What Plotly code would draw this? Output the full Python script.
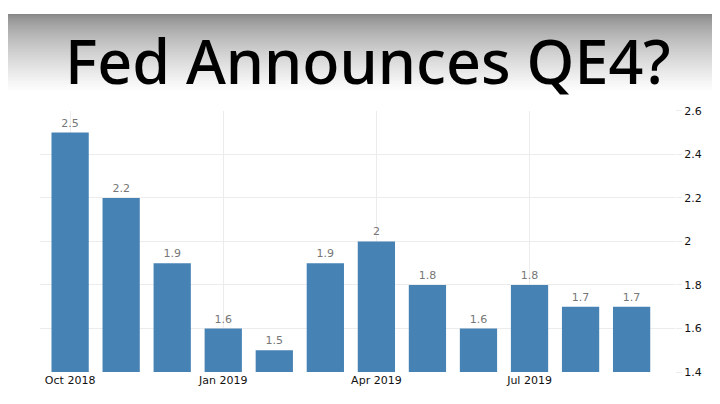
import plotly.graph_objects as go

months = ["Oct 2018","Nov 2018","Dec 2018","Jan 2019","Feb 2019","Mar 2019","Apr 2019","May 2019","Jun 2019","Jul 2019","Aug 2019","Sep 2019"]
values = [2.5,2.2,1.9,1.6,1.5,1.9,2,1.8,1.6,1.8,1.7,1.7]
tick_idx = [0,3,6,9]
tick_labels = ["Oct 2018","Jan 2019","Apr 2019","Jul 2019"]
y_ticks = [1.4,1.6,1.8,2,2.2,2.4,2.6]

W, H = 720, 404
x = list(range(len(values)))
fig = go.Figure(go.Bar(
    x=x, y=[v - 1.4 for v in values], base=1.4, width=0.73,
    marker=dict(color="#4682b4", line=dict(width=0)),
    text=[f"{v:g}" for v in values], textposition="outside",
    textfont=dict(color="#777777", size=11, family="DejaVu Sans"),
    cliponaxis=False, hoverinfo="skip"))

shapes = []
n = 80
step = 80 / H / n
for i in range(n):
    t = i / (n - 1)
    c = int(135 + (255 - 135) * min(1, t ** 0.7))
    shapes.append(dict(type="rect", xref="paper", yref="paper",
                       x0=0, x1=1, y0=1 - (i + 1) * step - 0.002, y1=1 - i * step,
                       fillcolor=f"rgb({c},{c},{c})", line=dict(width=0), layer="below"))

fig.update_layout(
    width=W, height=H, margin=dict(l=0, r=0, t=0, b=0),
    paper_bgcolor="white", plot_bgcolor="white", showlegend=False,
    shapes=shapes,
    xaxis=dict(domain=[32 / W, 667 / W], range=[-0.59, 11.85],
               tickvals=tick_idx, ticktext=tick_labels, showgrid=True,
               gridcolor="#ececec", zeroline=False,
               tickfont=dict(size=11, color="#111111", family="DejaVu Sans")),
    yaxis=dict(domain=[1 - 370 / H, 1 - 100 / H], range=[1.4, 2.6], side="right",
               tickvals=y_ticks, ticktext=[f"{v:g}" for v in y_ticks],
               showgrid=True, gridcolor="#ececec", zeroline=False,
               ticks="outside", ticklen=6, tickcolor="#ececec",
               tickfont=dict(size=11, color="#111111", family="DejaVu Sans")),
    annotations=[dict(text="Fed Announces QE4?", x=0.5, y=1 - 48 / H, xref="paper", yref="paper",
                      showarrow=False, xanchor="center", yanchor="middle",
                      font=dict(size=61, color="black", family="Noto Sans", weight=500))],
)
fig.write_html("out.html")
